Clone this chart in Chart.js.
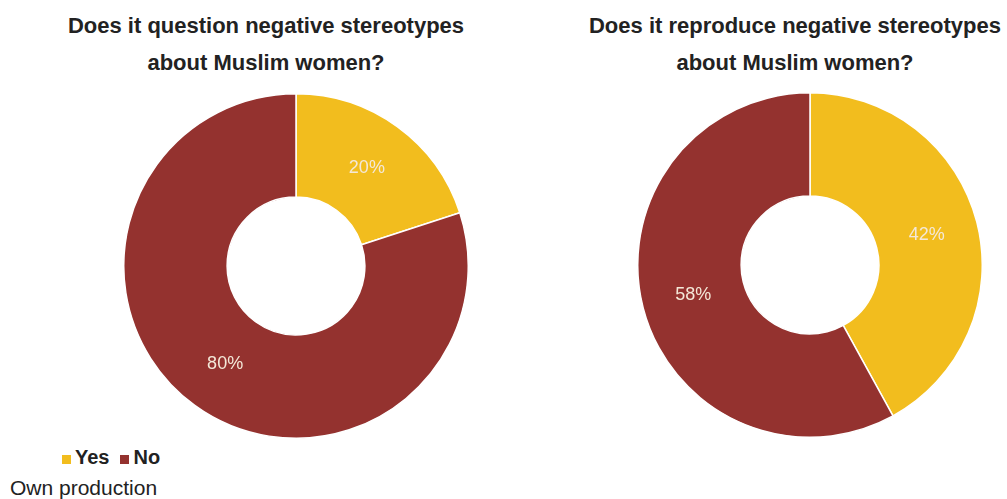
<!DOCTYPE html>
<html>
<head>
<meta charset="utf-8">
<script src="https://cdn.jsdelivr.net/npm/chart.js@4/dist/chart.umd.min.js"></script>
<style>
  html, body { margin: 0; padding: 0; background: #fff; overflow: hidden; }
  body { width: 1007px; height: 499px; position: relative; font-family: "Liberation Sans", Arial, sans-serif; }
  .title { position: absolute; top: 7px; width: 520px; text-align: center; font-weight: bold; font-size: 22px; line-height: 37px; color: #222; white-space: nowrap; }
  .pie { position: absolute; width: 346px; height: 346px; }
  #legend { position: absolute; left: 62px; top: 446px; font-weight: bold; font-size: 20px; color: #222; }
  #legend span.sw { display: inline-block; width: 9px; height: 9px; margin-right: 4px; }
  #legend span.item { margin-right: 11px; }
  #source { position: absolute; left: 10px; top: 476px; font-size: 21px; color: #222; }
</style>
</head>
<body>
<div class="title" id="title-left" style="left: 6px;"></div>
<div class="title" id="title-right" style="left: 535px;"></div>
<div class="pie" style="left: 123px; top: 93px;"><canvas id="chart-question"></canvas></div>
<div class="pie" style="left: 637px; top: 92px;"><canvas id="chart-reproduce"></canvas></div>
<div id="legend"></div>
<div id="source">Own production</div>

<script>
const categories = ["Yes", "No"];
const questionValues = [20, 80];
const reproduceValues = [42, 58];
const colors = ["#f2bd1e", "#94322f"];
const titleQuestion = ["Does it question negative stereotypes", "about Muslim women?"];
const titleReproduce = ["Does it reproduce negative stereotypes", "about Muslim women?"];

document.getElementById("title-left").innerHTML = titleQuestion.join("<br>");
document.getElementById("title-right").innerHTML = titleReproduce.join("<br>");

// legend shared by both doughnuts
document.getElementById("legend").innerHTML = categories
  .map((c, i) => `<span class="item"><span class="sw" style="background:${colors[i]}"></span>${c}</span>`)
  .join("");

// percent text in the middle of each arc
const arcLabels = {
  id: "arcLabels",
  afterDatasetsDraw(chart) {
    const ctx = chart.ctx;
    const meta = chart.getDatasetMeta(0);
    ctx.save();
    ctx.font = '18px "Liberation Sans", Arial, sans-serif';
    ctx.fillStyle = "#f4e8d8";
    ctx.textAlign = "center";
    ctx.textBaseline = "middle";
    meta.data.forEach((arc, i) => {
      const p = arc.getCenterPoint();
      ctx.fillText(chart.data.datasets[0].data[i] + "%", p.x, p.y);
    });
    ctx.restore();
  },
};

const makeDonut = (el, values) => {
  return new Chart(document.getElementById(el), {
    type: "doughnut",
    data: {
      labels: categories,
      datasets: [
        {
          data: values,
          backgroundColor: colors,
          borderColor: "#ffffff",
          borderWidth: 1.5,
        },
      ],
    },
    options: {
      responsive: true,
      maintainAspectRatio: false,
      animation: false,
      cutout: "40%",
      layout: { padding: 0 },
      plugins: {
        legend: { display: false },
        title: { display: false },
        tooltip: { enabled: false },
      },
    },
    plugins: [arcLabels],
  });
};

makeDonut("chart-question", questionValues);
makeDonut("chart-reproduce", reproduceValues);
</script>
</body>
</html>
